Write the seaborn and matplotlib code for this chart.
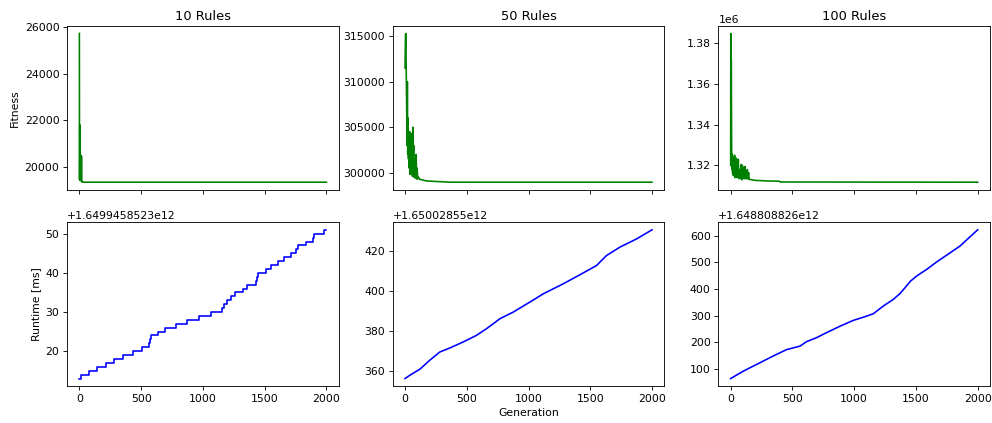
import numpy as np
import matplotlib
matplotlib.use('Agg')
import matplotlib.pyplot as plt
from matplotlib.ticker import ScalarFormatter
import seaborn as sns

# ------------------------------------------------------------
# 数据
# ------------------------------------------------------------
titles = ['10 Rules', '50 Rules', '100 Rules']

# Fitness 曲线
fit10_gen = [0, 1, 2, 3, 4, 5, 7, 9, 11, 13, 15, 17, 19, 22, 26, 30, 2000]
fit10_val = [25730, 19450, 19800, 21800, 19500, 20600, 19400, 20300, 19450,
             20500, 19400, 20450, 19350, 19360, 19335, 19330, 19330]

fit50_gen = [0, 2, 4, 7, 9, 11, 14, 16, 19, 22, 25, 28, 31, 34, 38, 41, 44,
             47, 50, 53, 57, 60, 63, 66, 70, 74, 78, 82, 86, 90, 94, 98, 103,
             110, 120, 140, 170, 220, 300, 360, 2000]
fit50_val = [311500, 313500, 315200, 315300, 312000, 310000, 306500, 303000,
             310000, 302000, 306000, 301500, 303500, 300500, 304500, 299800,
             304200, 301000, 303800, 300000, 304300, 299600, 305000, 300500,
             303000, 299500, 301500, 299400, 299800, 302000, 299300, 300500,
             299300, 299500, 299250, 299200, 299100, 299050, 299000, 298950,
             298950]

fit100_gen = [0, 1, 3, 5, 8, 10, 13, 16, 19, 22, 25, 28, 32, 35, 38, 42, 46,
              50, 54, 58, 62, 66, 70, 74, 78, 82, 86, 90, 95, 100, 105, 110,
              115, 120, 125, 130, 135, 140, 145, 150, 200, 300, 395, 400, 2000]
fit100_val = [1320000, 1384500, 1330000, 1371600, 1327000, 1318000, 1325500,
              1316000, 1324000, 1315000, 1322000, 1316500, 1325000, 1314000,
              1320000, 1315500, 1323500, 1314000, 1319000, 1314500, 1323000,
              1313500, 1318000, 1314000, 1316000, 1313500, 1320500, 1313000,
              1320000, 1314000, 1319000, 1313500, 1319500, 1313500, 1317000,
              1313500, 1318000, 1313400, 1316500, 1313200, 1312700, 1312400,
              1312300, 1311900, 1311800]

# Runtime 曲线（毫秒时间戳 = 基准 + 偏移）
rt10_base = 1649945852300
rt10_gen = [0, 13, 75, 146, 216, 283, 356, 431, 504, 565, 570, 580, 633, 693,
            782, 873, 968, 1065, 1151, 1170, 1199, 1224, 1259, 1326, 1361,
            1434, 1440, 1447, 1509, 1555, 1609, 1655, 1717, 1752, 1771, 1838,
            1892, 1900, 1978, 2000]
rt10_ms = [13, 14, 15, 16, 17, 18, 19, 20, 21, 22, 23, 24, 25, 26, 27, 28, 29,
           30, 31, 32, 33, 34, 35, 36, 37, 38, 39, 40, 41, 42, 43, 44, 45, 46,
           47, 48, 49, 50, 51, 51]

rt50_base = 1650028550000
rt50_gen = [0, 38, 119, 200, 281, 362, 470, 578, 659, 714, 768, 876, 1011,
            1119, 1281, 1416, 1551, 1578, 1632, 1741, 1876, 2000]
rt50_ms = [356.4, 358, 361, 365.5, 369.6, 371.6, 374.6, 377.9, 381.2, 383.7,
           386.2, 389.5, 394.5, 398.6, 403.6, 408.1, 412.7, 414.4, 417.7,
           421.9, 426, 430.5]

rt100_base = 1648808826000
rt100_gen = [0, 103, 184, 265, 345, 453, 561, 615, 696, 777, 885, 993, 1088,
             1155, 1236, 1317, 1371, 1412, 1457, 1506, 1587, 1668, 1776, 1857,
             2000]
rt100_ms = [63, 91, 110, 129, 148, 172, 185, 202, 217, 236, 260, 282, 296, 307,
            336, 361, 383, 405, 430, 449, 474, 502, 536, 562, 623]


class FullOffsetFormatter(ScalarFormatter):
    """偏移量显示完整的有效数字"""
    def get_offset(self):
        mant, exp = f'{self.offset:.10e}'.split('e')
        mant = mant.rstrip('0').rstrip('.')
        return f'+{mant}e{int(exp)}'


# ------------------------------------------------------------
# 绘图
# ------------------------------------------------------------
dpi = 78
fig, axes = plt.subplots(2, 3, figsize=(993 / dpi, 423 / dpi), dpi=dpi, sharex=True)
plt.subplots_adjust(left=0.0675, right=0.997, top=0.9385, bottom=0.0875,
                    wspace=0.1985, hspace=0.2)

fitness = [(fit10_gen, fit10_val), (fit50_gen, fit50_val), (fit100_gen, fit100_val)]
runtime = [(rt10_gen, rt10_base, rt10_ms, 'steps-post'),
           (rt50_gen, rt50_base, rt50_ms, 'default'),
           (rt100_gen, rt100_base, rt100_ms, 'default')]

for i in range(3):
    gen, val = fitness[i]
    sns.lineplot(x=np.array(gen), y=np.array(val, dtype=float), ax=axes[0, i],
                 color='green', estimator=None, sort=False)
    axes[0, i].set_title(titles[i], fontsize=12)

    gen, base, ms, ds = runtime[i]
    sns.lineplot(x=np.array(gen), y=base + np.array(ms, dtype=float), ax=axes[1, i],
                 color='blue', estimator=None, sort=False, drawstyle=ds)
    axes[1, i].yaxis.set_major_formatter(FullOffsetFormatter(useOffset=base))

axes[0, 0].set_ylabel('Fitness')
axes[1, 0].set_ylabel('Runtime [ms]')
axes[1, 1].set_xlabel('Generation')
axes[1, 1].set_xticks([0, 500, 1000, 1500, 2000])

plt.savefig('out.png', dpi=dpi)
